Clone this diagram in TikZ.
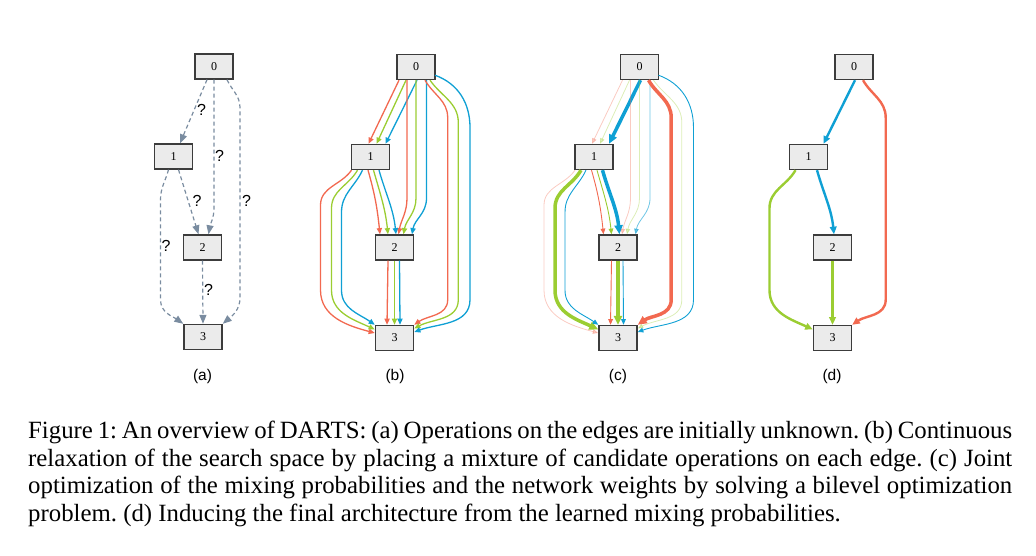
\documentclass[tikz,border=0pt]{standalone}
\usepackage{fontspec}
\setmainfont{Liberation Serif}
\newfontfamily\subfont{Liberation Sans}
\usetikzlibrary{arrows.meta,calc}

\definecolor{ered}{RGB}{242,105,80}
\definecolor{egreen}{RGB}{155,205,50}
\definecolor{eblue}{RGB}{15,160,212}
\definecolor{edash}{RGB}{122,140,160}
\definecolor{boxfill}{RGB}{235,235,235}
\definecolor{boxline}{RGB}{60,60,60}

\tikzset{
  cell/.style={draw=boxline,fill=boxfill,line width=1.4pt,minimum width=38pt,
    minimum height=25pt,inner sep=0pt,font=\fontsize{12}{12}\selectfont},
  mix/.style={line width=1.3pt,-{Triangle[length=4.5pt 1.3,width=3.5pt 1.3]}},
  faint/.style={mix,line width=.8pt,opacity=.35},
  pale/.style={mix,line width=.8pt,opacity=.6},
  lite/.style={mix,line width=.9pt},
  heavy/.style={mix,line width=3.5pt},
  bold/.style={mix,line width=2.4pt},
  off/.style={draw=none},
  unknown/.style={edash,line width=1.2pt,dash pattern=on 4pt off 3pt,
    -{Triangle[length=9pt,width=7pt]}},
  qm/.style={font=\subfont\fontsize{16}{16}\selectfont,inner sep=0pt},
  sub/.style={font=\subfont\fontsize{15.5}{15.5}\selectfont,inner sep=0pt},
}

% the four nodes of one cell
\newcommand\cells{%
  \node[cell] (n0) at (0,0) {0};
  \node[cell] (n1) at (-45.5,90) {1};
  \node[cell] (n2) at (-21.5,180.5) {2};
  \node[cell] (n3) at (-21.5,271) {3};}

% 0 -> 1
\newcommand\famZO[3]{%
  \foreach \c/\w/\s/\e in {ered/#1/-17/-2,egreen/#2/-10/6,eblue/#3/1/15}
    \draw[\c,\w] ($(n0.south)+(\s,0)$) -- ($(n1.north)+(\e,0)$);}
% 0 -> 2
\newcommand\famZT[3]{%
  \foreach \c/\w/\s/\e in {ered/#1/-9/4,egreen/#2/0/9,eblue/#3/10.5/17.5}
    \draw[\c,\w] ($(n0.south)+(\s,0)$) -- ++(0,118)
      to[out=-90,in=80] ($(n2.north)+(\e,0)$);}
% 0 -> 3
\newcommand\famZH[3]{%
  \foreach \c/\w/\s/\sy/\o/\dx/\dy/\l/\i/\ea/\ey in
    {ered/#1/9/0/-60/22.7/37.5/182/35/{north east}/0,
     egreen/#2/14/0/-55/28.3/42.5/177/28/east/-9.5,
     eblue/#3/19/-5/-20/35/52.5/172/20/east/-6}
    \draw[\c,\w] ($(n0.south)+(\s,\sy)$) to[out=\o,in=90] ++(\dx,\dy)
      -- ++(0,\l) to[out=-90,in=\i] ($(n3.\ea)+(0,\ey)$);}
% 1 -> 2
\newcommand\famOT[3]{%
  \foreach \c/\w/\s/\e in {ered/#1/-2.5/-14.5,egreen/#2/3/-6.5,eblue/#3/8.5/1.5}
    \draw[\c,\w] ($(n1.south)+(\s,0)$) to[out=-74,in=96] ($(n2.north)+(\e,0)$);}
% 1 -> 3
\newcommand\famOH[3]{%
  \foreach \c/\w/\s/\o/\dx/\dy/\l/\i/\ea/\ey in
    {ered/#1/-19/-125/-31/35/85/165/west/-5,
     egreen/#2/-13/-120/-26/38/82/155/west/-8.5,
     eblue/#3/-8/-115/-21/42/78/145/{north west}/0}
    \draw[\c,\w] ($(n1.south)+(\s,0)$) to[out=\o,in=90] ++(\dx,\dy)
      -- ++(0,\l) to[out=-90,in=\i] ($(n3.\ea)+(0,\ey)$);}
% 2 -> 3
\newcommand\famTH[3]{%
  \foreach \c/\w/\s/\e in {ered/#1/-6.5/-7.5,egreen/#2/0/0,eblue/#3/5/5.5}
    \draw[\c,\w] ($(n2.south)+(\s,0)$) -- ($(n3.north)+(\e,0)$);}

\begin{document}
\begin{tikzpicture}[x=1pt,y=-1pt]
  \path[use as bounding box] (0,0) rectangle (1036,556);

  % (a) unknown operations
  \node[cell] (a0) at (214,66.5) {0};
  \node[cell] (a1) at (173.5,156.5) {1};
  \node[cell] (a2) at (202.5,247.5) {2};
  \node[cell] (a3) at (203,337) {3};
  \draw[unknown] ($(a0.south)+(-7,0)$) -- ($(a1.north)+(6.5,0)$);
  \draw[unknown] (a0.south) -- ++(0,128) to[out=-90,in=80] ($(a2.north)+(6,0)$);
  \draw[unknown] ($(a0.south)+(13,0)$) to[out=-65,in=90] ++(13,28) -- ++(0,190)
    to[out=-90,in=40] (a3.north east);
  \draw[unknown] ($(a1.south)+(5,0)$) -- ($(a2.north)+(-4,0)$);
  \draw[unknown] ($(a1.south)+(-5,0)$) to[out=-105,in=90] ++(-8,30) -- ++(0,100)
    to[out=-90,in=145] (a3.north west);
  \draw[unknown] (a2.south) -- (a3.north);
  \node[qm] (q01) at (201.5,110) {?};
  \node[qm] (q02) at (219.5,155.5) {?};
  \node[qm] (q03) at (246.5,201) {?};
  \node[qm] (q12) at (197,201) {?};
  \node[qm] (q13) at (166,245.5) {?};
  \node[qm] (q23) at (208.5,290) {?};

  % (b) continuous relaxation
  \begin{scope}[shift={(416,67)},name prefix=b-]
    \cells
    \famZO{mix}{mix}{mix}
    \famZT{mix}{mix}{mix}
    \famZH{mix}{mix}{mix}
    \famOT{mix}{mix}{mix}
    \famOH{mix}{mix}{mix}
    \famTH{mix}{mix}{mix}
  \end{scope}

  % (c) learned mixing probabilities
  \begin{scope}[shift={(639.5,67)},name prefix=c-]
    \cells
    \famZO{faint}{faint}{heavy}
    \famZT{faint}{faint}{pale}
    \famZH{heavy}{faint}{lite}
    \famOT{lite}{lite}{heavy}
    \famOH{faint}{heavy}{lite}
    \famTH{lite}{heavy}{lite}
  \end{scope}

  % (d) final architecture
  \begin{scope}[shift={(854,67)},name prefix=d-]
    \cells
    \famZO{off}{off}{bold}
    \famZH{bold}{off}{off}
    \famOT{off}{off}{bold}
    \famOH{off}{bold}{off}
    \famTH{off}{bold}{off}
  \end{scope}

  \node[sub] (la) at (202.5,376) {(a)};
  \node[sub] (lb) at (395,376) {(b)};
  \node[sub] (lc) at (618,376) {(c)};
  \node[sub] (ld) at (832,376) {(d)};

  \node[anchor=north west,inner sep=0pt,text width=984pt,align=justify,
    font=\fontsize{24.8}{27.5}\selectfont\frenchspacing] (cap) at (28,421)
    {Figure 1: An overview of DARTS: (a) Operations on the edges are initially unknown. (b) Continuous\linebreak
     relaxation of the search space by placing a mixture of candidate operations on each edge. (c) Joint\linebreak
     optimization of the mixing probabilities and the network weights by solving a bilevel optimization\linebreak
     problem. (d) Inducing the final architecture from the learned mixing probabilities.};
\end{tikzpicture}
\end{document}
